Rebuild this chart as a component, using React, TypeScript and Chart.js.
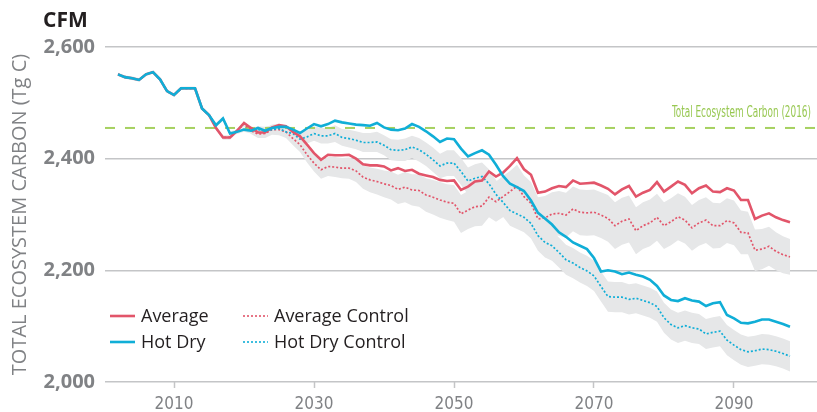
import React, { useEffect, useRef } from 'react';
import { Chart, registerables } from 'chart.js';

Chart.register(...registerables);

// ---------- data ----------
const FIRST_YEAR = 2002; // one value per year, 2002 … 2098
const X_MIN = 2000.14;
const X_MAX = 2101.86;
const Y_MIN = 2000;
const Y_MAX = 2600;
const Y_STEP = 200;
const X_TICKS = [2010, 2030, 2050, 2070, 2090];
const REF_2016 = 2455;
const REF_LABEL = 'Total Ecosystem Carbon (2016)';
const TITLE = 'CFM';
const Y_TITLE = 'TOTAL ECOSYSTEM CARBON (Tg C)';
const SERIES_NAMES = ['Average', 'Average Control', 'Hot Dry', 'Hot Dry Control'];

const hotDry = [
  2551, 2546, 2544, 2541, 2551, 2555, 2542, 2521, 2514, 2526,
  2526, 2526, 2490, 2478, 2460, 2472, 2445, 2448, 2452, 2450,
  2455, 2450, 2455, 2457, 2457, 2452, 2446, 2454, 2462, 2458,
  2462, 2468, 2465, 2463, 2461, 2460, 2459, 2464, 2456, 2452,
  2451, 2454, 2462, 2457, 2449, 2440, 2430, 2436, 2435, 2418,
  2404, 2410, 2415, 2407, 2389, 2369, 2355, 2349, 2342, 2325,
  2303, 2293, 2282, 2268, 2260, 2250, 2244, 2238, 2222, 2198,
  2200, 2198, 2193, 2196, 2192, 2189, 2183, 2172, 2155, 2147,
  2145, 2150, 2146, 2144, 2136, 2141, 2143, 2120, 2114, 2106,
  2105, 2108, 2112, 2112, 2108, 2104, 2099,
];

const average = [
  2551, 2546, 2544, 2541, 2551, 2555, 2542, 2521, 2514, 2526,
  2526, 2526, 2490, 2478, 2455, 2438, 2438, 2450, 2464, 2455,
  2447, 2447, 2456, 2460, 2458, 2448, 2440, 2425, 2410, 2398,
  2407, 2406, 2406, 2407, 2400, 2390, 2388, 2388, 2386, 2379,
  2383, 2378, 2380, 2373, 2370, 2367, 2362, 2360, 2361, 2344,
  2350, 2359, 2361, 2377, 2368, 2375, 2387, 2401, 2381, 2371,
  2339, 2341, 2347, 2351, 2349, 2361, 2355, 2356, 2357, 2352,
  2346, 2336, 2345, 2351, 2332, 2339, 2344, 2358, 2341, 2350,
  2359, 2353, 2338, 2347, 2352, 2341, 2340, 2347, 2343, 2326,
  2326, 2292, 2298, 2302, 2295, 2290, 2286,
];

const averageControl = [
  2551, 2546, 2544, 2541, 2551, 2555, 2542, 2521, 2514, 2526,
  2526, 2526, 2490, 2478, 2455, 2438, 2438, 2450, 2462, 2450,
  2444, 2445, 2452, 2452, 2448, 2436, 2425, 2407, 2392, 2380,
  2386, 2385, 2383, 2383, 2378, 2367, 2362, 2359, 2355, 2352,
  2345, 2349, 2344, 2343, 2335, 2331, 2326, 2322, 2320, 2301,
  2308, 2314, 2315, 2331, 2323, 2332, 2341, 2351, 2332, 2320,
  2292, 2294, 2301, 2302, 2299, 2310, 2304, 2303, 2304, 2299,
  2293, 2280, 2288, 2292, 2271, 2280, 2285, 2295, 2280, 2287,
  2296, 2290, 2276, 2285, 2290, 2280, 2280, 2289, 2285, 2268,
  2267, 2236, 2238, 2243, 2234, 2228, 2224,
];

const hotDryControl = [
  2551, 2546, 2544, 2541, 2551, 2555, 2542, 2521, 2514, 2526,
  2526, 2526, 2490, 2478, 2460, 2472, 2445, 2448, 2452, 2450,
  2452, 2450, 2452, 2454, 2448, 2445, 2435, 2439, 2445, 2441,
  2441, 2445, 2438, 2436, 2433, 2429, 2429, 2430, 2424, 2416,
  2415, 2416, 2421, 2416, 2408, 2398, 2387, 2392, 2392, 2377,
  2360, 2365, 2368, 2355, 2336, 2322, 2307, 2301, 2295, 2284,
  2262, 2250, 2244, 2232, 2219, 2213, 2205, 2199, 2190, 2171,
  2153, 2152, 2152, 2148, 2150, 2146, 2142, 2135, 2115, 2103,
  2097, 2101, 2097, 2095, 2086, 2089, 2091, 2075, 2066, 2058,
  2054, 2056, 2059, 2058, 2055, 2051, 2046,
];

// half-width of the grey uncertainty band around each control run
const averageSpread = [
  3, 3, 3, 3, 3, 3, 3, 3, 3, 3,
  3, 3, 3, 3, 4, 4, 4, 4, 4, 6,
  7, 8, 9, 10, 11, 12, 13, 14, 15, 16,
  17, 18, 18, 19, 20, 21, 22, 23, 24, 25,
  26, 27, 28, 29, 30, 31, 32, 32, 33, 34,
  34, 35, 35, 36, 36, 37, 37, 38, 38, 38,
  39, 39, 39, 40, 40, 40, 41, 41, 41, 41,
  42, 42, 42, 42, 42, 42, 42, 42, 42, 42,
  42, 42, 41, 41, 41, 41, 40, 40, 40, 39,
  38, 37, 36, 35, 34, 33, 32,
];

const hotDrySpread = [
  3, 3, 3, 3, 3, 3, 3, 3, 3, 3,
  3, 3, 3, 3, 4, 4, 4, 4, 4, 5,
  6, 7, 8, 9, 10, 11, 12, 12, 13, 14,
  14, 15, 15, 16, 16, 17, 17, 18, 18, 19,
  19, 20, 20, 21, 21, 22, 22, 23, 23, 24,
  24, 25, 25, 26, 26, 26, 27, 27, 27, 27,
  27, 27, 27, 27, 27, 27, 27, 27, 27, 27,
  27, 27, 27, 27, 27, 27, 27, 27, 27, 27,
  27, 27, 27, 27, 27, 27, 27, 27, 27, 27,
  27, 27, 27, 27, 27, 27, 27,
];

// ---------- style ----------
const RED = '#e2556a';
const BLUE = '#10aed7';
const GREEN = '#a6d160';
const GREEN_TEXT = '#98c852';
const BAND = '#e6e7e8';
const GRID = '#c4c5c7';
const AXIS_TEXT = '#808285';
const DARK = '#231f20';
const SANS = "'Open Sans', 'Noto Sans', sans-serif";
const NARROW = "'Liberation Sans Narrow', 'DejaVu Sans Condensed', 'Roboto Condensed', sans-serif";

const pts = (arr: number[]) => arr.map((v, i) => ({ x: FIRST_YEAR + i, y: v }));
const shifted = (arr: number[], spread: number[], sign: number) =>
  arr.map((v, i) => ({ x: FIRST_YEAR + i, y: v + sign * spread[i] }));

const overlayPlugin = {
  id: 'overlay',
  afterDatasetsDraw(chart: any) {
    const { ctx, scales } = chart;
    const y = scales.y;
    ctx.save();
    // title
    ctx.fillStyle = DARK;
    ctx.font = `bold 21px ${SANS}`;
    ctx.textAlign = 'left';
    ctx.textBaseline = 'middle';
    ctx.fillText(TITLE, 43, 21);

    // reference label
    ctx.fillStyle = GREEN_TEXT;
    ctx.font = `15px ${NARROW}`;
    ctx.textAlign = 'right';
    ctx.fillText(REF_LABEL, 811, y.getPixelForValue(REF_2016) - 14.5, 139);

    // legend
    const items = [
      { label: SERIES_NAMES[0], color: RED, dash: [], w: 2.6, x: 110, y: 317 },
      { label: SERIES_NAMES[1], color: RED, dash: [2, 2], w: 1.6, x: 243, y: 317 },
      { label: SERIES_NAMES[2], color: BLUE, dash: [], w: 2.6, x: 110, y: 343 },
      { label: SERIES_NAMES[3], color: BLUE, dash: [2, 2], w: 1.6, x: 243, y: 343 },
    ];
    ctx.textAlign = 'left';
    ctx.font = `18px ${SANS}`;
    for (const it of items) {
      ctx.beginPath();
      ctx.setLineDash(it.dash);
      ctx.strokeStyle = it.color;
      ctx.lineWidth = it.w;
      ctx.moveTo(it.x, it.y - 1);
      ctx.lineTo(it.x + 25, it.y - 1);
      ctx.stroke();
      ctx.setLineDash([]);
      ctx.fillStyle = DARK;
      ctx.fillText(it.label, it.x + 31, it.y);
    }
    ctx.restore();
  },
};

export default function App() {
  const canvasRef = useRef<HTMLCanvasElement | null>(null);

  useEffect(() => {
    document.body.style.margin = '0';
    const canvas = canvasRef.current;
    if (!canvas) return;

    const line = (label: string, data: number[], color: string, dotted: boolean) => ({
      label,
      data: pts(data),
      borderColor: color,
      borderWidth: dotted ? 1.7 : 2.6,
      borderDash: dotted ? [2, 2] : [],
      pointRadius: 0,
      fill: false,
      tension: 0,
    });

    const chart = new Chart(canvas, {
      type: 'line',
      data: {
        datasets: [
          line(SERIES_NAMES[2], hotDry, BLUE, false),
          line(SERIES_NAMES[0], average, RED, false),
          line(SERIES_NAMES[3], hotDryControl, BLUE, true),
          line(SERIES_NAMES[1], averageControl, RED, true),
          {
            label: REF_LABEL,
            data: [
              { x: X_MIN, y: REF_2016 },
              { x: X_MAX, y: REF_2016 },
            ],
            borderColor: GREEN,
            borderWidth: 2,
            borderDash: [10, 10],
            pointRadius: 0,
            fill: false,
          },
          {
            label: 'hd-upper',
            data: shifted(hotDryControl, hotDrySpread, 1),
            borderWidth: 0,
            borderColor: 'rgba(0,0,0,0)',
            pointRadius: 0,
            fill: false,
          },
          {
            label: 'hd-lower',
            data: shifted(hotDryControl, hotDrySpread, -1),
            borderWidth: 0,
            borderColor: 'rgba(0,0,0,0)',
            backgroundColor: BAND,
            pointRadius: 0,
            fill: '-1',
          },
          {
            label: 'av-upper',
            data: shifted(averageControl, averageSpread, 1),
            borderWidth: 0,
            borderColor: 'rgba(0,0,0,0)',
            pointRadius: 0,
            fill: false,
          },
          {
            label: 'av-lower',
            data: shifted(averageControl, averageSpread, -1),
            borderWidth: 0,
            borderColor: 'rgba(0,0,0,0)',
            backgroundColor: BAND,
            pointRadius: 0,
            fill: '-1',
          },
        ],
      },
      options: {
        animation: false,
        responsive: true,
        maintainAspectRatio: false,
        layout: { padding: { top: 47, right: 0, bottom: 0, left: 0 } },
        plugins: {
          legend: { display: false },
          tooltip: { enabled: false },
          title: { display: false },
        },
        scales: {
          x: {
            type: 'linear',
            min: X_MIN,
            max: X_MAX,
            afterBuildTicks: (s: any) => {
              s.ticks = X_TICKS.map((v) => ({ value: v }));
            },
            afterFit: (s: any) => {
              s.height = 30;
            },
            ticks: {
              autoSkip: false,
              maxRotation: 0,
              padding: 6,
              color: AXIS_TEXT,
              font: { family: NARROW, size: 17 },
              callback: (v: any) => String(v),
            },
            grid: {
              drawOnChartArea: false,
              drawTicks: true,
              tickLength: 6,
              tickColor: GRID,
              tickWidth: 1.5,
            },
            border: { display: false },
          },
          y: {
            min: Y_MIN,
            max: Y_MAX,
            afterFit: (s: any) => {
              s.width = 105;
            },
            ticks: {
              stepSize: Y_STEP,
              padding: 10,
              color: AXIS_TEXT,
              font: { family: SANS, size: 20, weight: 'bold' },
              callback: (v: any) => Number(v).toLocaleString('en-US'),
            },
            grid: { color: GRID, lineWidth: 1.5, drawTicks: false },
            border: { display: false },
            title: {
              display: true,
              text: Y_TITLE,
              color: AXIS_TEXT,
              font: { family: SANS, size: 20 },
              padding: { top: 8, bottom: 0 },
            },
          },
        },
      },
      plugins: [overlayPlugin],
    });

    return () => chart.destroy();
  }, []);

  return (
    <div style={{ width: 817, height: 412, position: 'relative' }}>
      <canvas ref={canvasRef} />
    </div>
  );
}
